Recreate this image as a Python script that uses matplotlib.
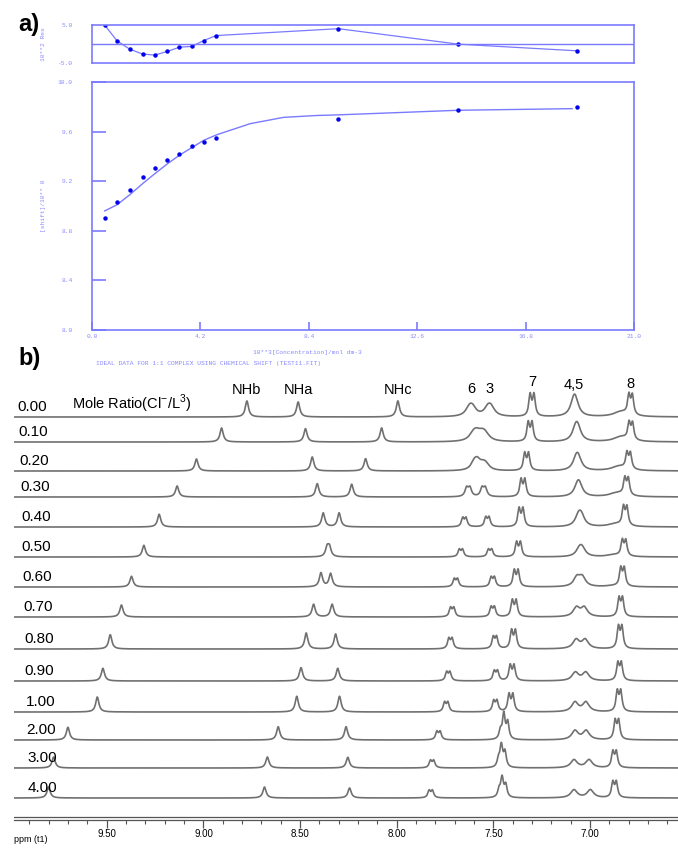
import numpy as np
import matplotlib

matplotlib.use("Agg")
import matplotlib.pyplot as plt

W, H = 678, 856

# ---- panel a: 1:1 fit of the NHb shift ----
conc = [0.49, 0.97, 1.46, 1.96, 2.43, 2.92, 3.39, 3.86, 4.33, 4.81, 9.55, 14.19, 18.79]
shift_obs = [8.907, 9.034, 9.133, 9.230, 9.305, 9.373, 9.421, 9.480, 9.518, 9.548,
             9.699, 9.772, 9.798]
resid = [5.0, 0.83, -1.35, -2.65, -2.91, -1.96, -0.83, -0.65, 0.91, 2.22, 4.03, -0.04, -1.79]
fit_conc = [0.49, 0.97, 1.46, 1.96, 2.43, 2.92, 3.39, 3.86, 4.33, 4.84, 6.13, 7.43, 8.72,
            9.55, 14.19, 18.6]
fit_shift = [8.96, 9.01, 9.09, 9.18, 9.26, 9.34, 9.41, 9.47, 9.53, 9.575, 9.664, 9.715,
             9.73, 9.735, 9.772, 9.785]
conc_ticks = [0.0, 4.2, 8.4, 12.6, 16.8, 21.0]
shift_ticks = [8.0, 8.4, 8.8, 9.2, 9.6, 10.0]

# ---- panel b: stacked 1H spectra ----
ratios = ["0.00", "0.10", "0.20", "0.30", "0.40", "0.50", "0.60", "0.70", "0.80", "0.90",
          "1.00", "2.00", "3.00", "4.00"]
NHb_ppm = [8.775, 8.906, 9.036, 9.136, 9.229, 9.308, 9.372, 9.424, 9.482, 9.520, 9.549,
           9.701, 9.775, 9.801]
NHb_h = [16, 14, 12, 11, 12.7, 11.7, 10.7, 12, 14.3, 12.7, 15, 12.7, 11, 11]
NHa_ppm = [8.510, 8.472, 8.437, 8.411, 8.380, 8.360, 8.342, 8.334, 8.316, 8.305, 8.296,
           8.262, 8.253, 8.244]
NHa_h = [15, 13.3, 14, 13.3, 14, 9, 13.3, 12.7, 15, 12.7, 15.7, 13.3, 10.7, 10]
NHc_ppm = [7.994, 8.078, 8.161, 8.233, 8.298, 8.348, 8.392, 8.430, 8.468, 8.495, 8.517,
           8.613, 8.669, 8.684]
NHc_h = [16, 14, 12.3, 12.7, 14, 9, 14, 12.7, 16, 13.3, 15.7, 13.3, 11, 11]
H6_ppm = [7.616, 7.595, 7.590, 7.630, 7.650, 7.668, 7.694, 7.713, 7.722, 7.733, 7.744,
          7.784, 7.817, 7.824]
H6_h = [13, 11, 12.5, 10.7, 10, 8.3, 9, 10.3, 11.7, 10, 10.7, 9.3, 8.3, 8.3]
H3_ppm = [7.520, 7.550, 7.545, 7.550, 7.531, 7.517, 7.503, 7.503, 7.492, 7.487, 7.490,
          7.455, 7.465, 7.462]
H3_h = [13, 10, 8, 10.7, 10.7, 8.3, 10.7, 11, 13.3, 11, 12.3, 10, 9, 9]
H63_fwhm = [0.045, 0.05, 0.04, 0.02, 0.016, 0.016, 0.016, 0.016, 0.016, 0.016, 0.016,
            0.016, 0.016, 0.016]
H7_ppm = [7.300, 7.310, 7.328, 7.347, 7.357, 7.370, 7.382, 7.392, 7.396, 7.403, 7.409,
          7.436, 7.450, 7.446]
H7_h = [24, 21, 19, 19, 20, 16, 18, 18, 20, 17, 19, 19, 17, 14]
H4_ppm = [7.085, 7.075, 7.072, 7.065, 7.060, 7.055, 7.068, 7.070, 7.072, 7.076, 7.078,
          7.078, 7.083, 7.083]
H5_ppm = [7.075, 7.063, 7.060, 7.055, 7.045, 7.040, 7.040, 7.030, 7.025, 7.022, 7.021,
          7.020, 7.005, 6.998]
H45_h = [12, 11, 10, 9, 9.5, 7, 9, 9, 9, 8.3, 9.5, 9, 8, 8]
H8_ppm = [6.790, 6.789, 6.800, 6.811, 6.818, 6.824, 6.832, 6.841, 6.844, 6.847, 6.850,
          6.861, 6.873, 6.873]
H8_h = [22, 19, 18, 19, 21, 17.5, 20.5, 21, 24.5, 20, 23, 21.5, 18, 17.5]
H8_sh = [5, 5, 4.5, 4, 3, 2, 1, 0, 0, 0, 0, 0, 0, 0]
peak_names = ["NHb", "NHa", "NHc", "6", "3", "7", "4,5", "8"]

# layout (pixels of the 678x856 picture)
baselines = [417, 442, 471, 497, 527, 557, 587, 617, 649, 681, 712, 740, 768, 798]
name_y = [390, 390, 390, 389, 389, 382, 385, 384]

BLUE_LINE = "#7a7aff"
BLUE_TXT = "#8a8aff"
BLUE_PT = "#0000ee"
MONO = ["Liberation Mono", "DejaVu Sans Mono"]


def box(l, t, r, b):
    return [l / W, 1 - b / H, (r - l) / W, (b - t) / H]


def lor(x, x0, fwhm):
    g = fwhm / 2
    return g * g / ((x - x0) ** 2 + g * g)


def doublet(x, x0, h, j, fwhm):
    y = lor(x, x0 - j / 2, fwhm) + lor(x, x0 + j / 2, fwhm)
    return h * y / y.max()


fig = plt.figure(figsize=(W / 100, H / 100), dpi=100)

# residuals
axr = fig.add_axes(box(92, 25, 634, 63))
axr.plot(conc, resid, color=BLUE_LINE, lw=0.9)
axr.plot(conc, resid, "o", color=BLUE_PT, ms=2.2)
axr.axhline(0, color=BLUE_LINE, lw=1)
axr.set_xlim(0, 21)
axr.set_ylim(-5, 5)
axr.set_xticks([])
axr.set_yticks([-5, 5])
axr.set_yticklabels(["-5.0", "5.0"], family=MONO, fontsize=4.5, color=BLUE_TXT)
axr.tick_params(length=0, pad=14)
axr.set_ylabel("10**2 Res", family=MONO, fontsize=4.5, color=BLUE_TXT, labelpad=8)
for s in axr.spines.values():
    s.set_color(BLUE_LINE)
    s.set_linewidth(1.2)

# main fit
ax = fig.add_axes(box(92, 82, 634, 330))
ax.plot(fit_conc, fit_shift, color=BLUE_LINE, lw=1)
ax.plot(conc, shift_obs, "o", color=BLUE_PT, ms=2.2)
ax.set_xlim(0, 21)
ax.set_ylim(8.0, 10.0)
ax.set_xticks(conc_ticks)
ax.set_xticklabels([f"{v:.1f}" for v in conc_ticks], family=MONO, fontsize=4.5,
                   color=BLUE_TXT)
ax.set_yticks(shift_ticks)
ax.set_yticklabels([f"{v:.1f}" for v in shift_ticks], family=MONO, fontsize=4.5,
                   color=BLUE_TXT)
ax.tick_params(axis="y", direction="in", length=10, width=1.2, color=BLUE_LINE, pad=14)
ax.tick_params(axis="x", direction="in", length=6, width=1.2, color=BLUE_LINE, pad=3)
ax.set_ylabel("[shift]/10** 0", family=MONO, fontsize=4.5, color=BLUE_TXT, labelpad=8)
for s in ax.spines.values():
    s.set_color(BLUE_LINE)
    s.set_linewidth(1.2)
fig.text(307 / W, 1 - 352 / H, "10**3[Concentration]/mol dm-3", family=MONO,
         fontsize=4.5, color=BLUE_TXT, ha="center", va="center")
fig.text(96 / W, 1 - 363 / H, "IDEAL DATA FOR 1:1 COMPLEX USING CHEMICAL SHIFT (TEST11.FIT)",
         family=MONO, fontsize=4.5, color=BLUE_TXT, ha="left", va="center")

fig.text(18 / W, 1 - 25 / H, "a)", family="Liberation Sans", weight="bold", fontsize=17,
         ha="left", va="center")
fig.text(18 / W, 1 - 358 / H, "b)", family="Liberation Sans", weight="bold", fontsize=17,
         ha="left", va="center")

# spectra
axs = fig.add_axes(box(14, 360, 678, 820))
ppm = np.linspace(6.5, 10.0, 4000)
for i, lab in enumerate(ratios):
    y = np.zeros_like(ppm)
    y += NHb_h[i] * lor(ppm, NHb_ppm[i], 0.02)
    y += NHa_h[i] * lor(ppm, NHa_ppm[i], 0.02)
    y += NHc_h[i] * lor(ppm, NHc_ppm[i], 0.02)
    y += doublet(ppm, H6_ppm[i], H6_h[i], 0.017, H63_fwhm[i])
    y += doublet(ppm, H3_ppm[i], H3_h[i], 0.017, H63_fwhm[i])
    y += doublet(ppm, H7_ppm[i], H7_h[i], 0.02, 0.016)
    y += H45_h[i] * (lor(ppm, H4_ppm[i], 0.04) + lor(ppm, H5_ppm[i], 0.04))
    y += doublet(ppm, H8_ppm[i], H8_h[i], 0.018, 0.016)
    y += H8_sh[i] * lor(ppm, H8_ppm[i] + 0.05, 0.09)
    base = 820 - baselines[i]
    axs.plot(ppm, base + y, color="#707070", lw=1.2)
    axs.text(9.96 - 0.004 * i, base + 10, lab, family="Liberation Sans", fontsize=11,
             ha="left", va="center")
axs.text(9.68, 820 - 404, r"Mole Ratio(Cl$^{\mathregular{-}}$/L$^{\mathregular{3}}$)",
         family="Liberation Sans", fontsize=10.5, ha="left", va="center")

label_ppm = [NHb_ppm[0], NHa_ppm[0], NHc_ppm[0], H6_ppm[0], H3_ppm[0], H7_ppm[0],
             H4_ppm[0], H8_ppm[0]]
for name, xp, yp in zip(peak_names, label_ppm, name_y):
    axs.text(xp, 820 - yp, name, family="Liberation Sans", fontsize=10.5, ha="center",
             va="center")

axs.set_xlim(9.98, 6.545)
axs.set_ylim(0, 460)
axs.axhline(3, color="#555555", lw=0.9)
for k in ("top", "left", "right"):
    axs.spines[k].set_visible(False)
axs.spines["bottom"].set_color("#555555")
axs.spines["bottom"].set_linewidth(0.9)
axs.set_yticks([])
major = [9.5, 9.0, 8.5, 8.0, 7.5, 7.0]
axs.set_xticks(major)
axs.set_xticklabels([f"{v:.2f}" for v in major], family="Liberation Sans", fontsize=7)
axs.set_xticks(np.arange(6.6, 9.95, 0.1), minor=True)
axs.tick_params(axis="x", which="major", direction="out", length=6, width=0.9,
                color="#555555", pad=0.5)
axs.tick_params(axis="x", which="minor", direction="out", length=3, width=0.8,
                color="#555555")
fig.text(14 / W, 1 - 840 / H, "ppm (t1)", family="Liberation Sans", fontsize=6.5,
         ha="left", va="center")

fig.savefig("out.png", dpi=100)
